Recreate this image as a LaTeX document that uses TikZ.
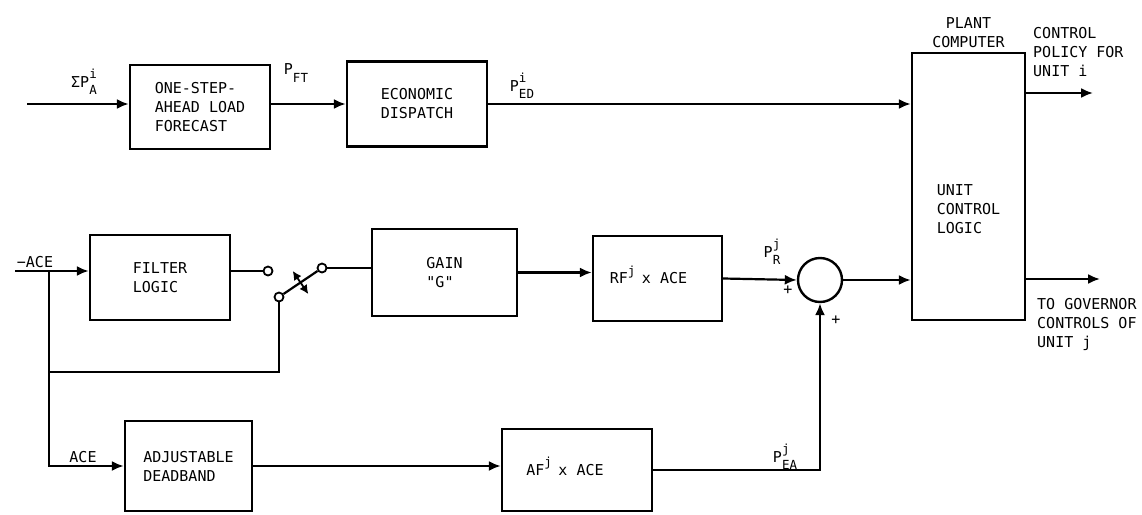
\documentclass[tikz,border=0pt]{standalone}
\usepackage{fontspec}
\setmonofont{DejaVu Sans Mono}
\usetikzlibrary{arrows.meta,positioning,calc}

\newcommand{\lblfont}{\ttfamily\fontsize{15}{19}\selectfont}
\newcommand{\idxfont}{\fontsize{12.5}{13}\selectfont}
% base letter with index above and below
\newcommand{\sv}[3]{#1\makebox[0pt][l]{\raisebox{1.0ex}{\idxfont #2}}\raisebox{-0.9ex}{\idxfont #3}}

\begin{document}
\begin{tikzpicture}[
  x=1pt, y=-1pt,
  font=\lblfont,
  blk/.style={draw, line width=2.4pt, align=left, inner sep=0pt},
  sig/.style={-{Latex[length=12pt,width=10pt]}, line width=2.2pt},
  wire/.style={line width=2.2pt},
  contact/.style={circle, draw, fill=white, line width=1.8pt, minimum size=9pt, inner sep=0pt},
  lbl/.style={inner sep=1pt, align=left},
]
\useasboundingbox (0,0) rectangle (1142,514);

% blocks
\node[blk, minimum width=140pt, minimum height=84pt] (fcst) at (200,107) {ONE-STEP-\\AHEAD LOAD\\FORECAST};
\node[blk, minimum width=140pt, minimum height=85pt] (edisp) at (417,104) {ECONOMIC\\DISPATCH};
\node[blk, minimum width=113pt, minimum height=267pt,
      label={[align=left, yshift=-23pt]center:{UNIT\\CONTROL\\LOGIC}}] (ucl) at (968.5,186.5) {};
\node[blk, minimum width=140pt, minimum height=85pt] (filt) at (160,277.5) {FILTER\\LOGIC};
\node[blk, minimum width=145pt, minimum height=87pt] (gain) at (444.5,272.5) {GAIN\\\textquotedbl G\textquotedbl};
\node[blk, minimum width=129pt, minimum height=85pt] (rfx) at (657.5,278.5) {\sv{RF}{j}{}\hspace{5pt} x ACE\hspace{18pt}};
\node[circle, draw, line width=2.4pt, minimum size=44pt, inner sep=0pt] (sum) at (820,280) {};
\node[blk, minimum width=127pt, minimum height=90pt] (dband) at (188.5,466) {ADJUSTABLE\\DEADBAND};
\node[blk, minimum width=150pt, minimum height=82pt] (afx) at (577,470) {\sv{AF}{j}{}\hspace{5pt} x ACE\hspace{24pt}};

% switch contacts
\node[contact] (sa) at (268,271) {};
\node[contact] (sb) at (322,268) {};
\node[contact] (sc) at (279,297) {};

\coordinate (pin) at (27,104);
\coordinate (ain) at (15,271);
\coordinate (br) at (49,271);
\coordinate (lk) at (49,372);
\coordinate (outi) at (1093,93);
\coordinate (outj) at (1100,279);

% signals
\draw[sig] (pin) -- (pin -| fcst.west);
\draw[sig] (edisp.west -| fcst.east) -- (edisp.west);
\draw[sig] (edisp.east) -- (edisp.east -| ucl.west);
\draw[sig] (ain) -- (ain -| filt.west);
\draw[wire] (filt.east |- sa) -- (sa);
\draw[wire] (sb) -- (sb -| gain.west);
\draw[wire] (sc) -- (sb);
\draw[{Latex[length=9pt,width=9pt]}-{Latex[length=9pt,width=9pt]}, line width=1.8pt]
  ($(sc)!0.5!(sb)!14pt!90:(sb)$) -- ($(sc)!0.5!(sb)!14pt!-90:(sb)$);
\draw[sig] (gain.east) -- (gain.east -| rfx.west);
\draw[sig] (rfx.east) -- (sum.west);
\draw[sig] (sum.east) -- (sum.east -| ucl.west);
\draw[wire] (br) -- (lk) -| (sc);
\draw[sig] (lk) |- (dband.west);
\draw[sig] (dband.east) -- (dband.east -| afx.west);
\draw[sig] (afx.east) -| (sum.south);
\draw[sig] (outi -| ucl.east) -- (outi);
\draw[sig] (outj -| ucl.east) -- (outj);

% labels
\node[lbl] (lsum) at (84,82) {\sv{ΣP}{i}{A}};
\node[lbl] (lft) at (296,73) {\sv{P}{}{FT}};
\node[lbl] (led) at (522,86) {\sv{P}{i}{ED}};
\node[lbl] (lace) at (35,262) {−ACE};
\node[lbl] (lacb) at (83,457) {ACE};
\node[lbl] (lr) at (772,252) {\sv{P}{j}{R}};
\node[lbl] (lea) at (785,457) {\sv{P}{j}{EA}};
\node[lbl] (pa) at (788,290) {+};
\node[lbl] (pb) at (836,320) {+};
\node[lbl, align=center, above=3pt of ucl] (pc) {PLANT\\COMPUTER};
\node[lbl, anchor=west] (cp) at (1032,52) {CONTROL\\POLICY FOR\\UNIT i};
\node[lbl, anchor=west] (tg) at (1036,324) {TO GOVERNOR\\CONTROLS OF\\UNIT j};
\end{tikzpicture}
\end{document}
